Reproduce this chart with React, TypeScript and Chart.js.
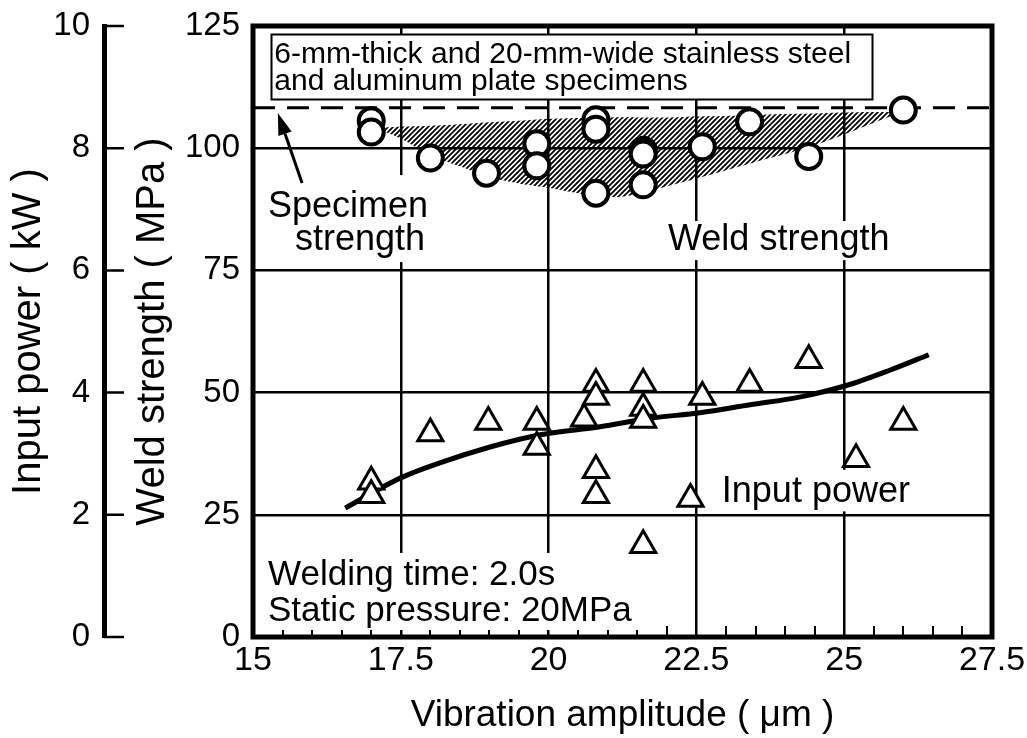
import React, { useEffect, useRef } from 'react';
import { Chart, registerables } from 'chart.js';

Chart.register(...registerables);

const FONT = "'Liberation Sans', Arial, Helvetica, sans-serif";

// ---- axes ----
const X_MIN = 15;
const X_MAX = 27.5;
const X_MINOR_STEP = 0.5;
const xTicks = [15, 17.5, 20, 22.5, 25, 27.5];
const strengthTicks = [0, 25, 50, 75, 100, 125];
const powerTicks = [0, 2, 4, 6, 8, 10];

// ---- weld strength (MPa), circles ----
const weldAmplitude = [17.0, 17.0, 18.0, 18.95, 19.8, 19.8, 20.8, 20.8, 20.8, 21.6, 21.6, 21.6, 22.6, 23.4, 24.4, 26.0];
const weldStrength = [105.6, 103.3, 98.0, 94.9, 100.9, 96.4, 105.8, 103.9, 90.8, 99.6, 98.8, 92.5, 100.3, 105.4, 98.3, 107.8];

// ---- input power (kW), triangles ----
const powerAmplitude = [17.0, 17.0, 18.0, 18.98, 19.8, 19.8, 20.6, 20.8, 20.8, 20.8, 20.8, 21.6, 21.6, 21.6, 21.6, 22.4, 22.6, 23.4, 24.4, 25.2, 26.0];
const inputPower = [2.54, 2.32, 3.33, 3.52, 3.52, 3.11, 3.57, 4.14, 3.93, 2.73, 2.32, 4.14, 3.75, 3.55, 1.5, 2.26, 3.93, 4.14, 4.53, 2.91, 3.52];

// ---- input power trend curve (kW) ----
const fitAmplitude = [16.56, 17.49, 18.16, 19.01, 19.86, 20.87, 21.72, 22.56, 23.41, 24.26, 25.05, 25.78, 26.43];
const fitPower = [2.11, 2.6, 2.85, 3.11, 3.31, 3.44, 3.58, 3.67, 3.8, 3.93, 4.12, 4.37, 4.62];

// ---- specimen strength (MPa), dashed ----
const specimenStrength = 108.3;

// ---- weld strength scatter band (MPa), hatched ----
const bandAmplitude = [17.15, 17.5, 18.0, 18.5, 19.0, 19.5, 20.0, 20.5, 21.0, 21.5, 22.0, 22.5, 23.0, 23.5, 24.0, 24.5, 25.0, 25.5, 25.95];
const bandUpper = [104.2, 104.4, 104.6, 104.9, 105.3, 105.6, 106.0, 106.2, 106.3, 106.3, 106.3, 106.5, 106.6, 106.8, 107.0, 107.1, 107.3, 107.4, 107.4];
const bandLower = [103.8, 102.0, 98.6, 96.3, 94.1, 92.8, 91.9, 90.8, 90.0, 90.6, 92.2, 93.8, 95.5, 97.2, 98.8, 100.6, 102.8, 105.2, 107.3];

// ---- annotations (data coordinates) ----
const noteBox = { x1: 15.3, x2: 25.465, y1: 123.36, y2: 110.0 };
const noteLines = [
  { text: '6-mm-thick and 20-mm-wide stainless steel', x: 15.36, y: 117.4 },
  { text: 'and aluminum plate specimens', x: 15.36, y: 111.9 },
];
const bigLabels = [
  { text: 'Specimen', x: 15.254, y: 86.0 },
  { text: 'strength', x: 15.71, y: 79.2 },
  { text: 'Weld strength', x: 22.02, y: 79.2 },
  { text: 'Input power', x: 22.93, y: 27.6 },
];
const conditionLines = [
  { text: 'Welding time: 2.0s', x: 15.254, y: 10.64 },
  { text: 'Static pressure: 20MPa', x: 15.254, y: 3.27 },
];
const masks = [
  { x1: 15.17, x2: 18.11, y1: 94.5, y2: 76.7 },
  { x1: 21.88, x2: 25.94, y1: 85.1, y2: 77.1 },
  { x1: 22.81, x2: 26.25, y1: 34.2, y2: 25.7 },
  { x1: 15.08, x2: 21.88, y1: 17.2, y2: 1.43 },
];
const arrow = { x1: 15.83, y1: 92.9, x2: 15.42, y2: 107.2 };

const pts = (xs: number[], ys: number[]) => xs.map((x, i) => ({ x, y: ys[i] }));

const overlay = {
  id: 'overlay',
  beforeDraw(chart: any) {
    const { ctx, width, height } = chart;
    ctx.save();
    ctx.fillStyle = '#fff';
    ctx.fillRect(0, 0, width, height);
    ctx.restore();
  },
  beforeDatasetsDraw(chart: any) {
    const { ctx, chartArea: ca } = chart;
    const xs = chart.scales.x;
    const ys = chart.scales.y;
    const X = (v: number) => xs.getPixelForValue(v);
    const Y = (v: number) => ys.getPixelForValue(v);
    ctx.save();
    // minor ticks on bottom axis
    ctx.strokeStyle = '#000';
    ctx.lineWidth = 2;
    ctx.beginPath();
    const n = Math.round((X_MAX - X_MIN) / X_MINOR_STEP);
    for (let k = 1; k < n; k++) {
      if (k % 5 === 0) continue;
      const px = Math.round(X(X_MIN + k * X_MINOR_STEP));
      ctx.moveTo(px, ca.bottom);
      ctx.lineTo(px, ca.bottom - 11);
    }
    ctx.stroke();
    // white masks behind labels
    ctx.fillStyle = '#fff';
    for (const m of masks) {
      ctx.fillRect(X(m.x1), Y(m.y1), X(m.x2) - X(m.x1), Y(m.y2) - Y(m.y1));
    }
    ctx.fillRect(X(noteBox.x1), Y(noteBox.y1), X(noteBox.x2) - X(noteBox.x1), Y(noteBox.y2) - Y(noteBox.y1));
    ctx.restore();
  },
  afterDatasetsDraw(chart: any) {
    const { ctx } = chart;
    const xs = chart.scales.x;
    const ys = chart.scales.y;
    const X = (v: number) => xs.getPixelForValue(v);
    const Y = (v: number) => ys.getPixelForValue(v);
    ctx.save();
    ctx.fillStyle = '#000';
    ctx.strokeStyle = '#000';
    ctx.textAlign = 'left';
    ctx.textBaseline = 'alphabetic';
    // note box
    ctx.lineWidth = 2;
    ctx.strokeRect(Math.round(X(noteBox.x1)) + 0.5, Math.round(Y(noteBox.y1)) + 0.5,
      Math.round(X(noteBox.x2) - X(noteBox.x1)), Math.round(Y(noteBox.y2) - Y(noteBox.y1)));
    ctx.font = `30px ${FONT}`;
    for (const l of noteLines) ctx.fillText(l.text, X(l.x), Y(l.y));
    ctx.font = `36px ${FONT}`;
    for (const l of bigLabels) ctx.fillText(l.text, X(l.x), Y(l.y));
    ctx.font = `35px ${FONT}`;
    for (const l of conditionLines) ctx.fillText(l.text, X(l.x), Y(l.y));
    // arrow
    const ax1 = X(arrow.x1), ay1 = Y(arrow.y1), ax2 = X(arrow.x2), ay2 = Y(arrow.y2);
    const ang = Math.atan2(ay2 - ay1, ax2 - ax1);
    const hl = 22, hw = 7;
    const bx = ax2 - Math.cos(ang) * hl, by = ay2 - Math.sin(ang) * hl;
    ctx.lineWidth = 3;
    ctx.beginPath();
    ctx.moveTo(ax1, ay1);
    ctx.lineTo(bx, by);
    ctx.stroke();
    ctx.beginPath();
    ctx.moveTo(ax2, ay2);
    ctx.lineTo(bx - Math.sin(ang) * hw, by + Math.cos(ang) * hw);
    ctx.lineTo(bx + Math.sin(ang) * hw, by - Math.cos(ang) * hw);
    ctx.closePath();
    ctx.fill();
    ctx.restore();
  },
  afterDraw(chart: any) {
    const { ctx, chartArea: ca } = chart;
    const y2 = chart.scales.y2;
    ctx.save();
    ctx.strokeStyle = '#000';
    ctx.lineWidth = 5;
    ctx.strokeRect(ca.left, ca.top, ca.right - ca.left, ca.bottom - ca.top);
    ctx.lineWidth = 2.5;
    ctx.beginPath();
    for (const t of powerTicks) {
      const py = y2.getPixelForValue(t);
      ctx.moveTo(y2.right, py);
      ctx.lineTo(y2.right + 20, py);
    }
    ctx.stroke();
    ctx.restore();
  },
};

export default function App() {
  const ref = useRef<HTMLCanvasElement>(null);
  useEffect(() => {
    const canvas = ref.current!;
    const pc = document.createElement('canvas');
    pc.width = 5;
    pc.height = 5;
    const pctx = pc.getContext('2d')!;
    pctx.strokeStyle = '#000';
    pctx.lineWidth = 1.8;
    pctx.beginPath();
    pctx.moveTo(-1, 6); pctx.lineTo(6, -1);
    pctx.moveTo(-1, 1); pctx.lineTo(1, -1);
    pctx.moveTo(4, 6); pctx.lineTo(6, 4);
    pctx.stroke();
    const hatch = canvas.getContext('2d')!.createPattern(pc, 'repeat');

    const chart = new Chart(canvas, {
      type: 'line',
      data: {
        datasets: [
          {
            label: 'Weld strength',
            data: pts(weldAmplitude, weldStrength),
            yAxisID: 'y',
            showLine: false,
            pointStyle: 'circle',
            pointRadius: 12.5,
            pointBorderWidth: 4,
            pointBackgroundColor: '#fff',
            pointBorderColor: '#000',
            order: 0,
          },
          {
            label: 'Input power',
            data: pts(powerAmplitude, inputPower),
            yAxisID: 'y2',
            showLine: false,
            pointStyle: 'triangle',
            pointRadius: 14.5,
            pointBorderWidth: 3,
            pointBackgroundColor: '#fff',
            pointBorderColor: '#000',
            order: 1,
          },
          {
            label: 'Input power trend',
            data: pts(fitAmplitude, fitPower),
            yAxisID: 'y2',
            borderColor: '#000',
            borderWidth: 5,
            pointRadius: 0,
            tension: 0.4,
            cubicInterpolationMode: 'monotone',
            fill: false,
            order: 2,
          },
          {
            label: 'Specimen strength',
            data: pts([X_MIN, X_MAX], [specimenStrength, specimenStrength]),
            yAxisID: 'y',
            borderColor: '#000',
            borderWidth: 3,
            borderDash: [22, 12],
            pointRadius: 0,
            fill: false,
            order: 3,
          },
          {
            label: 'Band upper',
            data: pts(bandAmplitude, bandUpper),
            yAxisID: 'y',
            borderColor: 'rgba(0,0,0,0)',
            borderWidth: 1,
            pointRadius: 0,
            tension: 0.4,
            fill: '+1',
            backgroundColor: hatch as any,
            order: 4,
          },
          {
            label: 'Band lower',
            data: pts(bandAmplitude, bandLower),
            yAxisID: 'y',
            borderColor: 'rgba(0,0,0,0)',
            borderWidth: 1,
            pointRadius: 0,
            tension: 0.4,
            fill: false,
            order: 5,
          },
        ],
      },
      options: {
        responsive: false,
        maintainAspectRatio: false,
        animation: false,
        events: [],
        layout: { padding: { top: 26, right: 35, bottom: 0, left: 0 } },
        plugins: { legend: { display: false }, tooltip: { enabled: false } },
        scales: {
          x: {
            type: 'linear',
            min: X_MIN,
            max: X_MAX,
            afterBuildTicks: (s: any) => { s.ticks = xTicks.map((v) => ({ value: v })); },
            ticks: {
              color: '#000',
              font: { family: FONT, size: 34 },
              padding: 3,
              maxRotation: 0,
              autoSkip: false,
              callback: (v: any) => String(v),
            },
            grid: { color: '#000', lineWidth: 2.5, drawTicks: false },
            border: { display: false },
            title: {
              display: true,
              text: 'Vibration amplitude ( μm )',
              color: '#000',
              font: { family: FONT, size: 37 },
              padding: { top: 0, bottom: 0 },
            },
            afterFit: (s: any) => { s.height = 101; s.paddingLeft = 0; s.paddingRight = 0; },
          },
          y: {
            type: 'linear',
            position: 'left',
            weight: 0,
            min: 0,
            max: 125,
            afterBuildTicks: (s: any) => { s.ticks = strengthTicks.map((v) => ({ value: v })); },
            ticks: { color: '#000', font: { family: FONT, size: 33 }, padding: 13 },
            grid: { color: '#000', lineWidth: 2.5, drawTicks: false },
            border: { display: false },
            title: {
              display: true,
              text: 'Weld strength ( MPa )',
              color: '#000',
              font: { family: FONT, size: 40 },
              padding: { top: 25, bottom: 0 },
            },
            afterFit: (s: any) => { s.width = 149; s.paddingTop = 0; s.paddingBottom = 0; },
          },
          y2: {
            type: 'linear',
            position: 'left',
            weight: 1,
            min: 0,
            max: 10,
            afterBuildTicks: (s: any) => { s.ticks = powerTicks.map((v) => ({ value: v })); },
            ticks: { color: '#000', font: { family: FONT, size: 33 }, padding: 14 },
            grid: { drawOnChartArea: false, drawTicks: false },
            border: { display: true, color: '#000', width: 5 },
            title: {
              display: true,
              text: 'Input power ( kW )',
              color: '#000',
              font: { family: FONT, size: 40 },
              padding: { top: 5, bottom: 0 },
            },
            afterFit: (s: any) => { s.width = 104; s.paddingTop = 0; s.paddingBottom = 0; },
          },
        },
      } as any,
      plugins: [overlay],
    });
    return () => chart.destroy();
  }, []);

  return (
    <div style={{ position: 'fixed', left: 0, top: 0, width: 1027, height: 738, background: '#fff' }}>
      <canvas ref={ref} width={1027} height={738} style={{ display: 'block' }} />
    </div>
  );
}
